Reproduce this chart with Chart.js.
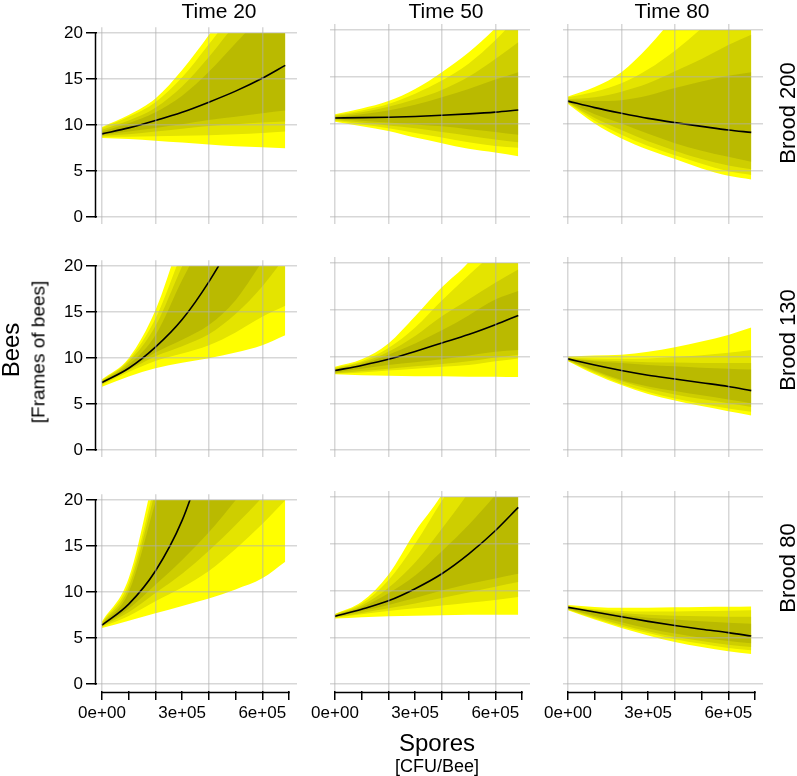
<!DOCTYPE html>
<html>
<head>
<meta charset="utf-8">
<script src="https://cdn.jsdelivr.net/npm/chart.js@4.4.0/dist/chart.umd.min.js"></script>
<style>
  body { margin: 0; background: #fff; }
  #wrap { position: relative; width: 797px; height: 776px; overflow: hidden; font-family: "Liberation Sans", Arial, sans-serif; }
  #wrap canvas { position: absolute; }
  .lab { position: absolute; white-space: nowrap; color: #000; line-height: 1; }
</style>
</head>
<body>
<div id="wrap"></div>
<script>
// x positions (spores, CFU/bee) shared by every panel
var spores = [0, 100000, 200000, 300000, 400000, 500000, 600000, 686000];

var timeLabels = ['Time 20', 'Time 50', 'Time 80'];
var broodLabels = ['Brood 200', 'Brood 130', 'Brood 80'];
var yTicks = [0, 5, 10, 15, 20];
var xTicks = [0, 100000, 200000, 300000, 400000, 500000, 600000, 700000];
var xLabelTicks = [0, 300000, 600000];

// each panel: median, upper bounds (outer -> inner), lower bounds (outer -> inner)
var t20_b200_med = [9.05, 9.7, 10.5, 11.4, 12.5, 13.7, 15.1, 16.5];
var t20_b200_up = [
  [9.8, 11.1, 12.9, 16.0, 19.8, 24, 28, 32],
  [9.7, 10.9, 12.5, 15.2, 18.8, 22.5, 26, 30],
  [9.5, 10.5, 11.9, 14.2, 17.4, 21, 24, 27],
  [9.3, 10.2, 11.4, 13.2, 15.8, 18.9, 22.0, 24.5]
];
var t20_b200_lo = [
  [8.6, 8.5, 8.3, 8.1, 7.9, 7.7, 7.6, 7.5],
  [8.75, 8.75, 8.8, 8.85, 8.9, 9.0, 9.15, 9.3],
  [8.85, 9.0, 9.3, 9.6, 9.9, 10.1, 10.3, 10.4],
  [8.95, 9.3, 9.7, 10.1, 10.55, 10.9, 11.3, 11.6]
];

var t50_b200_med = [10.6, 10.63, 10.68, 10.76, 10.88, 11.03, 11.22, 11.45];
var t50_b200_up = [
  [11.0, 11.6, 12.4, 13.7, 15.5, 17.6, 20.2, 23],
  [10.9, 11.4, 12.1, 13.2, 14.6, 16.4, 18.9, 21.5],
  [10.8, 11.2, 11.8, 12.6, 13.6, 15.0, 16.9, 18.7],
  [10.7, 11.0, 11.4, 12.0, 12.8, 13.7, 14.7, 15.5]
];
var t50_b200_lo = [
  [10.2, 9.7, 9.2, 8.5, 7.9, 7.3, 6.9, 6.5],
  [10.3, 9.9, 9.5, 9.0, 8.5, 8.0, 7.6, 7.4],
  [10.4, 10.1, 9.8, 9.5, 9.1, 8.7, 8.3, 8.0],
  [10.5, 10.3, 10.1, 9.9, 9.7, 9.4, 9.1, 8.8]
];

var t80_b200_med = [12.4, 11.7, 11.1, 10.55, 10.1, 9.7, 9.3, 9.05];
var t80_b200_up = [
  [12.9, 13.9, 15.5, 18.2, 21.5, 25, 28, 31],
  [12.8, 13.4, 14.3, 15.8, 17.8, 20.2, 23, 25.5],
  [12.6, 12.8, 13.4, 14.3, 15.6, 16.9, 18.4, 19.5],
  [12.5, 12.4, 12.5, 13.0, 13.8, 14.5, 15.1, 15.5]
];
var t80_b200_lo = [
  [12.1, 10.0, 8.4, 7.2, 6.2, 5.2, 4.4, 4.0],
  [12.2, 10.3, 8.8, 7.6, 6.6, 5.7, 4.9, 4.5],
  [12.25, 10.6, 9.3, 8.1, 7.1, 6.2, 5.5, 5.1],
  [12.3, 11.0, 10.0, 8.9, 7.9, 7.1, 6.45, 5.9]
];

var t20_b130_med = [7.35, 8.9, 11.2, 14.2, 18.3, 23.3, 29, 35];
var t20_b130_up = [
  [7.7, 10.0, 15.2, 23.5, 31, 38, 45, 52],
  [7.6, 9.8, 14.3, 21.5, 28, 35, 42, 48],
  [7.5, 9.6, 13.5, 20.0, 26, 32, 38, 44],
  [7.4, 9.3, 12.5, 18.5, 24, 30, 36, 42]
];
var t20_b130_lo = [
  [6.9, 8.0, 8.9, 9.5, 10.0, 10.6, 11.4, 12.5],
  [7.1, 8.5, 9.7, 10.5, 11.4, 12.8, 14.5, 15.7],
  [7.2, 8.7, 10.2, 11.3, 12.6, 14.8, 17.8, 21],
  [7.3, 8.8, 10.6, 12.0, 13.6, 16.3, 20.5, 24]
];

var t50_b130_med = [8.5, 9.05, 9.7, 10.55, 11.45, 12.35, 13.4, 14.4];
var t50_b130_up = [
  [8.9, 9.7, 11.4, 14.3, 17.4, 20.1, 24, 27],
  [8.8, 9.5, 10.9, 13.1, 16.0, 18.7, 21.2, 23],
  [8.7, 9.35, 10.5, 12.2, 14.3, 16.1, 17.9, 19.3],
  [8.6, 9.2, 10.2, 11.4, 12.8, 14.4, 16.1, 17.0]
];
var t50_b130_lo = [
  [8.1, 8.0, 7.95, 7.9, 7.9, 7.85, 7.85, 7.8],
  [8.15, 8.3, 8.5, 8.7, 8.9, 9.1, 9.5, 9.8],
  [8.2, 8.45, 8.7, 8.95, 9.2, 9.5, 9.9, 10.2],
  [8.3, 8.7, 9.1, 9.4, 9.7, 10.1, 10.5, 10.7]
];

var t80_b130_med = [9.75, 9.1, 8.5, 8.0, 7.6, 7.2, 6.8, 6.35];
var t80_b130_up = [
  [10.0, 10.1, 10.2, 10.5, 11.0, 11.6, 12.3, 13.1],
  [9.9, 9.8, 9.75, 9.8, 9.95, 10.15, 10.4, 10.7],
  [9.85, 9.6, 9.5, 9.4, 9.35, 9.3, 9.3, 9.3],
  [9.8, 9.5, 9.3, 9.1, 8.95, 8.8, 8.7, 8.6]
];
var t80_b130_lo = [
  [9.5, 8.1, 6.95, 6.0, 5.3, 4.7, 4.15, 3.7],
  [9.55, 8.25, 7.1, 6.2, 5.5, 4.95, 4.45, 4.1],
  [9.6, 8.4, 7.35, 6.55, 5.95, 5.45, 5.0, 4.6],
  [9.65, 8.5, 7.5, 6.8, 6.3, 5.85, 5.4, 5.0]
];

var t20_b80_med = [6.4, 8.7, 12.3, 17.8, 26, 34, 43, 51];
var t20_b80_up = [
  [6.8, 11.5, 23.5, 36, 48, 60, 72, 82],
  [6.7, 11.0, 22.0, 34, 46, 58, 70, 80],
  [6.6, 10.5, 21.0, 32, 44, 56, 68, 78],
  [6.5, 10.0, 19.8, 30, 42, 54, 66, 76]
];
var t20_b80_lo = [
  [6.1, 6.9, 7.7, 8.5, 9.3, 10.3, 11.5, 13.3],
  [6.2, 7.4, 9.0, 10.5, 12.3, 14.7, 17.4, 20.0],
  [6.3, 7.8, 9.9, 12.0, 14.5, 17.3, 20.3, 23],
  [6.35, 8.2, 10.8, 13.5, 16.5, 20.0, 23.5, 27]
];

var t50_b80_med = [7.25, 8.0, 8.9, 10.2, 11.8, 13.9, 16.4, 18.9];
var t50_b80_up = [
  [7.5, 8.8, 11.7, 16.3, 20.3, 26, 32, 37],
  [7.45, 8.6, 11.1, 15.0, 19.6, 24, 29, 34],
  [7.4, 8.4, 10.3, 13.0, 16.6, 20.5, 25, 29],
  [7.35, 8.2, 9.7, 11.6, 14.2, 17.0, 20.2, 23]
];
var t50_b80_lo = [
  [7.0, 7.15, 7.25, 7.3, 7.35, 7.4, 7.4, 7.4],
  [7.1, 7.45, 7.8, 8.1, 8.4, 8.7, 9.0, 9.3],
  [7.15, 7.6, 8.1, 8.6, 9.2, 9.8, 10.4, 10.9],
  [7.2, 7.8, 8.45, 9.2, 10.0, 10.7, 11.3, 11.8]
];

var t80_b80_med = [8.2, 7.7, 7.2, 6.7, 6.25, 5.85, 5.5, 5.13];
var t80_b80_up = [
  [8.45, 8.25, 8.15, 8.15, 8.2, 8.25, 8.27, 8.3],
  [8.35, 8.0, 7.8, 7.75, 7.75, 7.8, 7.85, 7.9],
  [8.3, 7.9, 7.6, 7.4, 7.3, 7.25, 7.2, 7.2],
  [8.25, 7.8, 7.4, 7.1, 6.9, 6.7, 6.55, 6.45]
];
var t80_b80_lo = [
  [7.9, 6.9, 6.0, 5.2, 4.5, 3.95, 3.5, 3.2],
  [7.95, 7.0, 6.15, 5.45, 4.8, 4.3, 3.85, 3.6],
  [8.0, 7.15, 6.35, 5.65, 5.05, 4.6, 4.2, 3.95],
  [8.05, 7.3, 6.6, 5.95, 5.4, 4.95, 4.6, 4.35]
];

var panels = [
  [t20_b200_med, t20_b200_up, t20_b200_lo], [t50_b200_med, t50_b200_up, t50_b200_lo], [t80_b200_med, t80_b200_up, t80_b200_lo],
  [t20_b130_med, t20_b130_up, t20_b130_lo], [t50_b130_med, t50_b130_up, t50_b130_lo], [t80_b130_med, t80_b130_up, t80_b130_lo],
  [t20_b80_med, t20_b80_up, t20_b80_lo], [t50_b80_med, t50_b80_up, t50_b80_lo], [t80_b80_med, t80_b80_up, t80_b80_lo]
];

var shades = ['#FFFF00', '#E4E400', '#CECE00', '#BABA00']; // outer -> inner
var gridCol = 'rgba(175,175,175,0.5)';
var colLeft = [97, 330, 563];
var rowTop = [24, 257, 491];
var yMax = 20;

Chart.defaults.font.family = '"Liberation Sans", Arial, sans-serif';
Chart.defaults.font.size = 17;
Chart.defaults.color = '#000';

// bands and medians are cut at the top of the y range (20), like the original
var clipTop = {
  id: 'clipTop',
  beforeDatasetsDraw: function(chart) {
    var a = chart.chartArea;
    var y = chart.scales.y.getPixelForValue(yMax);
    chart.ctx.save();
    chart.ctx.beginPath();
    chart.ctx.rect(a.left, y, a.right - a.left, a.bottom - y);
    chart.ctx.clip();
  },
  afterDatasetsDraw: function(chart) {
    chart.ctx.restore();
  }
};

// R style axis lines that only span the tick range
var axisLines = {
  id: 'axisLines',
  afterDraw: function(chart, args, opts) {
    var ctx = chart.ctx, a = chart.chartArea;
    var xs = chart.scales.x, ys = chart.scales.y;
    ctx.save();
    ctx.strokeStyle = '#000';
    ctx.lineWidth = 1.5;
    if (opts.left) {
      ctx.beginPath();
      ctx.moveTo(a.left - 1.5, ys.getPixelForValue(0) + 0.75);
      ctx.lineTo(a.left - 1.5, ys.getPixelForValue(yMax) - 0.75);
      ctx.stroke();
    }
    if (opts.bottom) {
      ctx.beginPath();
      ctx.moveTo(xs.getPixelForValue(0) - 0.75, a.bottom + 1.5);
      ctx.lineTo(xs.getPixelForValue(700000) + 0.75, a.bottom + 1.5);
      ctx.stroke();
    }
    ctx.restore();
  }
};

function pts(arr) {
  return spores.map(function(s, i) { return {x: s, y: arr[i]}; });
}

function sci(v) {
  return v.toExponential(0).replace(/e([+-])(\d)$/, 'e$10$2');
}

function makePanel(r, c, med, up, lo) {
  var left = c === 0, bottom = r === 2;
  var cv = document.createElement('canvas');
  cv.width = 267; cv.height = 260;
  cv.style.width = '267px'; cv.style.height = '260px';
  cv.style.left = (colLeft[c] - 57) + 'px';
  cv.style.top = (rowTop[r] - 10) + 'px';
  document.getElementById('wrap').appendChild(cv);

  var ds = [{ data: pts(med), borderColor: '#000', borderWidth: 1.6, fill: false }];
  for (var k = 3; k >= 0; k--) {
    ds.push({ data: pts(up[k]), borderWidth: 0, backgroundColor: shades[k], fill: '+1' });
    ds.push({ data: pts(lo[k]), borderWidth: 0, fill: false });
  }

  new Chart(cv.getContext('2d'), {
    type: 'line',
    data: { datasets: ds },
    options: {
      responsive: false,
      animation: false,
      devicePixelRatio: 1,
      events: [],
      layout: { padding: { top: 10, right: 10, left: 0, bottom: 0 } },
      elements: {
        point: { radius: 0 },
        line: { cubicInterpolationMode: 'monotone', capBezierPoints: false }
      },
      plugins: {
        legend: { display: false },
        tooltip: { enabled: false },
        axisLines: { left: left, bottom: bottom }
      },
      scales: {
        x: {
          type: 'linear',
          min: -18700, max: 730000,
          border: { display: false },
          grid: {
            z: 1,
            lineWidth: 1.5,
            color: function(ctx) { return ctx.tick && Math.round(ctx.tick.value) % 200000 === 0 ? gridCol : 'rgba(0,0,0,0)'; },
            drawTicks: bottom,
            tickLength: 9,
            tickColor: '#000',
            tickWidth: 1.5
          },
          ticks: {
            display: bottom,
            maxRotation: 0,
            autoSkip: false,
            padding: 3,
            callback: function(v) { return xLabelTicks.indexOf(Math.round(v)) >= 0 ? sci(Math.round(v)) : ''; }
          },
          afterBuildTicks: function(s) {
            s.ticks = xTicks.map(function(v) { return {value: v}; });
          },
          afterFit: function(s) { s.height = 50; }
        },
        y: {
          min: -0.75, max: 20.65,
          border: { display: false },
          grid: {
            z: 1,
            lineWidth: 1.5,
            color: gridCol,
            drawTicks: left,
            tickLength: 11,
            tickColor: '#000',
            tickWidth: 1.5
          },
          ticks: {
            display: left,
            padding: 3
          },
          afterBuildTicks: function(s) {
            s.ticks = yTicks.map(function(v) { return {value: v}; });
          },
          afterFit: function(s) { s.width = 57; }
        }
      }
    },
    plugins: [clipTop, axisLines]
  });
}

for (var r = 0; r < 3; r++) {
  for (var c = 0; c < 3; c++) {
    var p = panels[r * 3 + c];
    makePanel(r, c, p[0], p[1], p[2]);
  }
}

function addText(txt, cx, cy, size, rot) {
  var d = document.createElement('div');
  d.className = 'lab';
  d.textContent = txt;
  d.style.fontSize = size + 'px';
  d.style.left = cx + 'px';
  d.style.top = cy + 'px';
  d.style.transform = 'translate(-50%,-50%)' + (rot ? ' rotate(' + rot + 'deg)' : '');
  document.getElementById('wrap').appendChild(d);
}

var titleX = [219, 446, 672];
var broodY = [113, 340, 568];
for (var i = 0; i < 3; i++) {
  addText(timeLabels[i], titleX[i], 9.5, 21);
  addText(broodLabels[i], 788, broodY[i], 22, -90);
}
addText('Bees', 11, 350, 24, -90);
addText('[Frames of bees]', 38, 352, 19, -90);
addText('Spores', 437, 743, 24);
addText('[CFU/Bee]', 437, 766, 18);
</script>
</body>
</html>
